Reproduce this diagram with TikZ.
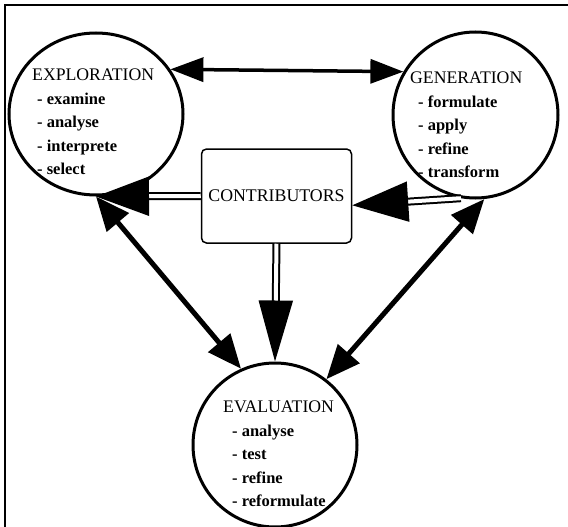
\documentclass[tikz,border=0pt]{standalone}
\usepackage{fontspec}
\setmainfont{Liberation Serif}
\usetikzlibrary{shapes.geometric,arrows.meta,positioning}

\newcommand{\phasetitle}[1]{{\fontsize{17.7}{23.5}\selectfont #1}}

\begin{document}
\begin{tikzpicture}[
  x=1pt, y=-1pt,
  blob/.style={draw, ellipse, line width=3pt, inner sep=0pt},
  list/.style={align=left, inner sep=0pt, anchor=north west, font=\fontsize{16.5}{23.5}\selectfont},
  box/.style={draw, rounded corners=5pt, line width=1.5pt, minimum width=150pt, minimum height=94pt, font=\fontsize{17.8}{20}\selectfont},
  twoway/.style={{Triangle[length=33pt,width=24pt]}-{Triangle[length=33pt,width=24pt]}, line width=3.5pt},
  diag/.style={{Triangle[length=34pt,width=28pt]}-{Triangle[length=34pt,width=28pt]}, line width=5pt},
  feed/.style={double, line width=2pt, double distance=4pt}
]
\useasboundingbox (0,0) rectangle (568,527);
% frame
\draw[line width=2.5pt] (5,527) -- (5,5) -- (568,5);

\node[blob, minimum width=174pt, minimum height=162pt] (expl) at (96,114) {};
\node[blob, minimum width=165pt, minimum height=166pt] (gen) at (475.5,115) {};
\node[blob, minimum width=164pt, minimum height=164pt] (eval) at (275,445) {};
\node[box] (contr) at (276.5,196) {CONTRIBUTORS};

\node[list] (explt) at (32,69) {\phasetitle{EXPLORATION}\\\hspace*{5pt}\textbf{- examine}\\\hspace*{5pt}\textbf{- analyse}\\\hspace*{5pt}\textbf{- interprete}\\\hspace*{5pt}\textbf{- select}};
\node[list] (gent) at (410,72) {\phasetitle{GENERATION}\\\hspace*{8pt}\textbf{- formulate}\\\hspace*{8pt}\textbf{- apply}\\\hspace*{8pt}\textbf{- refine}\\\hspace*{8pt}\textbf{- transform}};
\node[list] (evalt) at (223,401) {\phasetitle{EVALUATION}\\\hspace*{9pt}\textbf{- analyse}\\\hspace*{9pt}\textbf{- test}\\\hspace*{9pt}\textbf{- refine}\\\hspace*{9pt}\textbf{- reformulate}};

\draw[twoway] (expl.31) -- (gen.149);
\draw[diag] (expl.south) -- (eval.114);
\draw[diag] (gen.-84) -- (eval.52);

% contributors feed the three phases
\draw[feed, -{Triangle[length=53pt,width=39pt]}] (contr.west) -- (expl.south);
\draw[feed, -{Triangle[length=56pt,width=40pt]}] (gen.-100) -- (contr.-7);
\draw[feed, -{Triangle[length=61pt,width=34pt]}] (contr.south) -- (eval.north);
\end{tikzpicture}
\end{document}
